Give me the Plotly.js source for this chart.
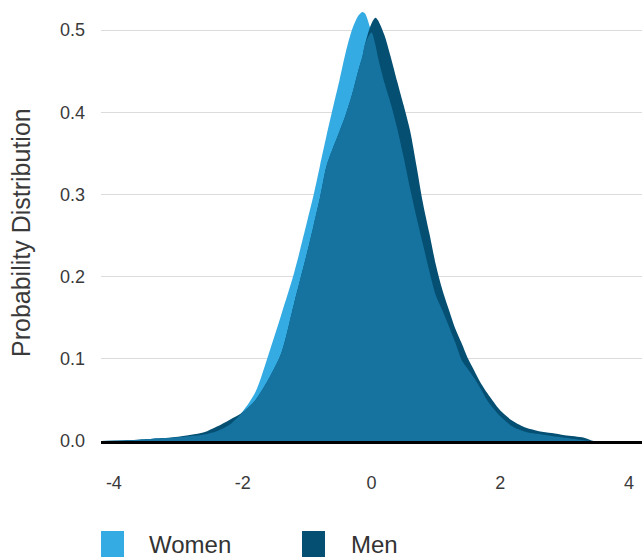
<!DOCTYPE html>
<html>
<head>
<meta charset="utf-8">
<script src="https://cdn.plot.ly/plotly-3.0.1.min.js"></script>
<style>html,body{margin:0;padding:0;background:#fff;}#chart{width:642px;height:557px;}</style>
</head>
<body>
<div id="chart"></div>
<script>
// Shared x grid (standardised score)
const xValues = [-4.2, -3.8, -3.5, -3.2, -3.0, -2.8, -2.6, -2.4, -2.2, -2.0, -1.8, -1.6, -1.4, -1.2, -1.0,
  -0.9, -0.8, -0.7, -0.6, -0.5, -0.4, -0.3, -0.2, -0.14, -0.1, 0.0, 0.06, 0.1, 0.2, 0.3, 0.4, 0.5, 0.6,
  0.7, 0.8, 0.9, 1.0, 1.1, 1.2, 1.3, 1.4, 1.5, 1.6, 1.7, 1.8, 1.9, 2.0, 2.2, 2.4, 2.6, 2.8, 3.0, 3.3,
  3.45, 3.6, 4.2];

// Women density
const women = [0, 0.0005, 0.002, 0.0035, 0.0045, 0.006, 0.008, 0.012, 0.020, 0.036, 0.060, 0.105, 0.154, 0.205, 0.267,
  0.299, 0.335, 0.371, 0.405, 0.438, 0.473, 0.501, 0.518, 0.522, 0.520, 0.497, 0.482, 0.467, 0.436, 0.410, 0.380, 0.345, 0.307,
  0.272, 0.239, 0.206, 0.177, 0.159, 0.140, 0.120, 0.0985, 0.087, 0.076, 0.063, 0.049, 0.039, 0.030, 0.017, 0.011, 0.0085, 0.006, 0.004, 0.001,
  0.0, 0, 0];

// Men density
const men = [0, 0.0008, 0.0022, 0.0036, 0.0052, 0.0075, 0.0105, 0.0175, 0.026, 0.035, 0.050, 0.075, 0.107, 0.168, 0.229,
  0.262, 0.296, 0.334, 0.356, 0.376, 0.397, 0.422, 0.452, 0.468, 0.483, 0.508, 0.515, 0.512, 0.494, 0.467, 0.437, 0.408, 0.377,
  0.334, 0.289, 0.252, 0.214, 0.184, 0.160, 0.137, 0.119, 0.100, 0.085, 0.070, 0.058, 0.047, 0.037, 0.024, 0.016, 0.012, 0.0097, 0.007, 0.004,
  0.0, 0, 0];

const seriesNames = ["Women", "Men"];
const yTitle = "Probability Distribution";
const xTickVals = [-4, -2, 0, 2, 4];
const xTickText = ["-4", "-2", "0", "2", "4"];
const yTickVals = [0, 0.1, 0.2, 0.3, 0.4, 0.5];
const yTickText = ["0.0", "0.1", "0.2", "0.3", "0.4", "0.5"];

const colWomen = "#34abe2";
const colMen = "#044f72";
const colBoth = "#1673a0";

const overlap = women.map((w, i) => Math.min(w, men[i]));

const base = {x: xValues, type: "scatter", mode: "lines", fill: "tozeroy",
  line: {width: 0, shape: "spline", smoothing: 0.8}, hoverinfo: "skip", showlegend: false};

const traces = [
  Object.assign({}, base, {y: women, name: seriesNames[0], fillcolor: colWomen}),
  Object.assign({}, base, {y: men, name: seriesNames[1], fillcolor: colMen}),
  Object.assign({}, base, {y: overlap, name: "Overlap", fillcolor: colBoth})
];

const L = 101, T = 6, W = 642, H = 557, B0 = 441;
const pw = W - L, ph = B0 - T;
const px = p => (p - L) / pw;
const py = p => (B0 - p) / ph;

const layout = {
  width: W, height: H,
  margin: {l: L, r: 0, t: T, b: H - B0, pad: 0},
  paper_bgcolor: "#ffffff", plot_bgcolor: "#ffffff",
  font: {family: "Liberation Sans, Arial, sans-serif", color: "#3a3a3a"},
  showlegend: false,
  xaxis: {
    range: [-4.2, 4.2], tickvals: xTickVals, ticktext: xTickText,
    showgrid: false, zeroline: false, ticks: "",
    showline: true, linecolor: "#000000", linewidth: 3,
    ticklabelstandoff: 23,
    tickfont: {size: 18, color: "#3a3a3a"}
  },
  yaxis: {
    range: [0, (B0 - T) / 822], tickvals: yTickVals, ticktext: yTickText,
    showgrid: true, gridcolor: "#dcdcdc", gridwidth: 1, zeroline: false,
    ticks: "", ticklabelstandoff: 15, showline: false,
    tickfont: {size: 18, color: "#3a3a3a"}
  },
  shapes: [
    {type: "rect", xref: "paper", yref: "paper", x0: px(101), x1: px(124), y0: py(562), y1: py(531),
      fillcolor: colWomen, line: {width: 0}},
    {type: "rect", xref: "paper", yref: "paper", x0: px(302), x1: px(325), y0: py(562), y1: py(531),
      fillcolor: colMen, line: {width: 0}}
  ],
  annotations: [
    {text: yTitle, xref: "paper", yref: "paper", x: px(21), y: py(233), xanchor: "center", yanchor: "middle",
      textangle: -90, showarrow: false, font: {size: 25, color: "#3a3a3a"}},
    {text: seriesNames[0], xref: "paper", yref: "paper", x: px(147), y: py(544), xanchor: "left", yanchor: "middle",
      showarrow: false, font: {size: 24, color: "#333333"}},
    {text: seriesNames[1], xref: "paper", yref: "paper", x: px(349), y: py(544), xanchor: "left", yanchor: "middle",
      showarrow: false, font: {size: 24, color: "#333333"}}
  ]
};

Plotly.newPlot("chart", traces, layout, {displayModeBar: false, staticPlot: true});
</script>
</body>
</html>
